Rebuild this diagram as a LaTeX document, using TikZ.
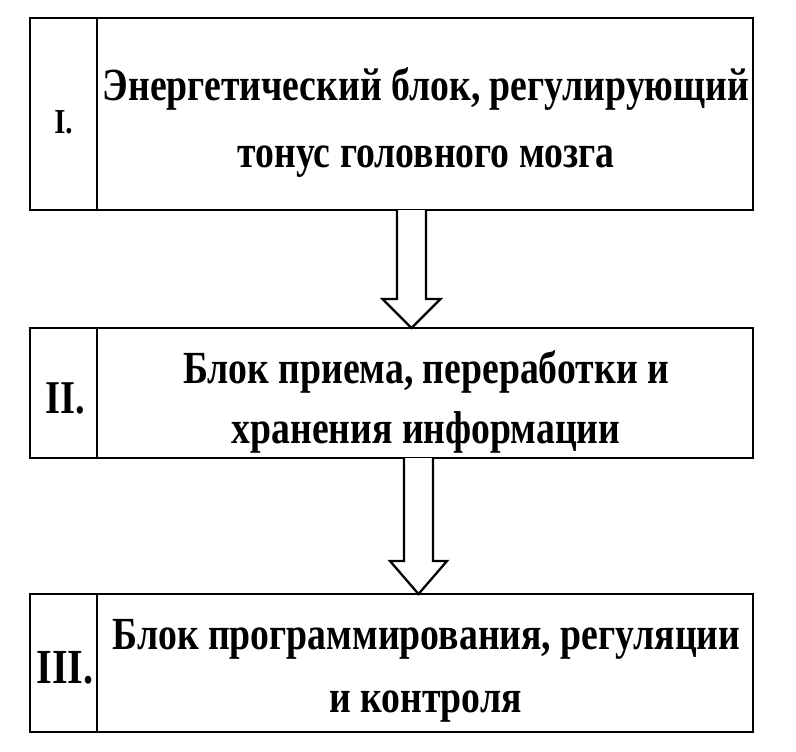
\documentclass[tikz,border=0pt]{standalone}
\usepackage{fontspec}
\newfontfamily\tnr[FakeStretch=0.82]{Liberation Serif}
\usetikzlibrary{calc}
\tikzset{
  box/.style={draw=black, line width=2.3pt, fill=white, inner sep=0pt},
  divider/.style={draw=black, line width=2.3pt},
  blockarrow/.style={draw=black, line width=2.3pt, fill=white, line join=miter},
  txt/.style={anchor=base, inner sep=0pt, font=\tnr\bfseries\fontsize{46}{50}\selectfont},
  num/.style={anchor=base, inner sep=0pt},
}
\begin{document}
\begin{tikzpicture}[x=1pt, y=-1pt]
\useasboundingbox[fill=white] (0,0) rectangle (796,752);
% boxes
\node[box, minimum width=723pt, minimum height=192pt] (b1) at (391.5,114) {};
\node[box, minimum width=723pt, minimum height=130pt] (b2) at (391.5,393) {};
\node[box, minimum width=723pt, minimum height=138pt] (b3) at (391.5,663) {};
\draw[divider] (97,18) -- (97,210);
\draw[divider] (97,328) -- (97,458);
\draw[divider] (97,594) -- (97,732);
% arrows
\coordinate (a1s) at (411.5,210);
\coordinate (a1h) at (411.5,299);
\coordinate (a1t) at (411.5,328);
\coordinate (a2s) at (418.5,458);
\coordinate (a2h) at (418.5,561);
\coordinate (a2t) at (418.5,594);
\filldraw[blockarrow] ([xshift=-14.5pt]a1s) -- ([xshift=-14.5pt]a1h) -- ([xshift=-29pt]a1h) -- (a1t) -- ([xshift=29pt]a1h) -- ([xshift=14.5pt]a1h) -- ([xshift=14.5pt]a1s);
\filldraw[blockarrow] ([xshift=-14.5pt]a2s) -- ([xshift=-14.5pt]a2h) -- ([xshift=-28.5pt]a2h) -- (a2t) -- ([xshift=28.5pt]a2h) -- ([xshift=14.5pt]a2h) -- ([xshift=14.5pt]a2s);
% numerals
\node[num, font=\tnr\bfseries\fontsize{35}{40}\selectfont] (n1) at (63.5,133) {I.};
\node[num, font=\tnr\bfseries\fontsize{47}{52}\selectfont] (n2) at (65.5,413) {II.};
\node[num, font=\tnr\bfseries\fontsize{49}{54}\selectfont] (n3) at (65,683) {III.};
% texts
\node[txt] (t11) at (426,100) {Энергетический блок, регулирующий};
\node[txt] (t12) at (426,167) {тонус головного мозга};
\node[txt] (t21) at (426,383) {Блок приема, переработки и};
\node[txt] (t22) at (426,443) {хранения информации};
\node[txt] (t31) at (426.5,649) {Блок программирования, регуляции};
\node[txt] (t32) at (425.5,712) {и контроля};
\end{tikzpicture}
\end{document}
